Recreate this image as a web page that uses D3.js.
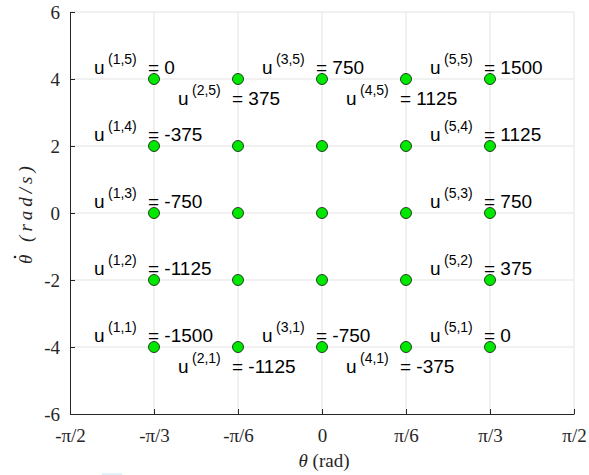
<!DOCTYPE html>
<html>
<head>
<meta charset="utf-8">
<script src="https://cdn.jsdelivr.net/npm/d3@7"></script>
<style>
  body { margin: 0; background: #fff; }
  svg { display: block; }
</style>
</head>
<body>
<div id="chart"></div>
<script>
// grid of sample states
const thetaGrid = [-Math.PI / 3, -Math.PI / 6, 0, Math.PI / 6, Math.PI / 3];
const rateGrid = [-4, -2, 0, 2, 4];

// axis ticks
const xTicks = [-Math.PI / 2, -Math.PI / 3, -Math.PI / 6, 0, Math.PI / 6, Math.PI / 3, Math.PI / 2];
const xTickLabels = ["-\u03c0/2", "-\u03c0/3", "-\u03c0/6", "0", "\u03c0/6", "\u03c0/3", "\u03c0/2"];
const yTicks = [-6, -4, -2, 0, 2, 4, 6];

// labelled points: grid index i (theta), j (rate), value, above/below
const labelI = [1, 2, 3, 4, 5, 1, 5, 1, 5, 1, 5, 1, 2, 3, 4, 5];
const labelJ = [5, 5, 5, 5, 5, 4, 4, 3, 3, 2, 2, 1, 1, 1, 1, 1];
const labelU = [0, 375, 750, 1125, 1500, -375, 1125, -750, 750, -1125, 375, -1500, -1125, -750, -375, 0];
const labelSide = ["up", "down", "up", "down", "up", "up", "up", "up", "up", "up", "up", "up", "down", "up", "down", "up"];

const W = 589, H = 475;
const margin = { top: 12, right: 15, bottom: 61, left: 70 };

const svg = d3.select("#chart").append("svg")
    .attr("width", W)
    .attr("height", H);

const x = d3.scaleLinear()
    .domain([-Math.PI / 2, Math.PI / 2])
    .range([margin.left, W - margin.right]);
const y = d3.scaleLinear()
    .domain([-6, 6])
    .range([H - margin.bottom, margin.top]);

const serif = "Liberation Serif";
const sans = "Liberation Sans";

// grid lines
svg.append("g").selectAll("line.gx")
    .data(xTicks.slice(1))
    .enter().append("line")
    .attr("x1", d => x(d)).attr("x2", d => x(d))
    .attr("y1", y(-6)).attr("y2", y(6))
    .attr("stroke", "#e3e3e3");
svg.append("g").selectAll("line.gy")
    .data(yTicks.slice(1))
    .enter().append("line")
    .attr("x1", x(-Math.PI / 2)).attr("x2", x(Math.PI / 2))
    .attr("y1", d => y(d)).attr("y2", d => y(d))
    .attr("stroke", "#e3e3e3");

// axes (ticks pointing inward)
const xAxis = svg.append("g")
    .attr("transform", `translate(0,${y(-6)})`)
    .call(d3.axisBottom(x).tickValues(xTicks).tickSizeInner(-5).tickSizeOuter(0)
        .tickFormat((d, i) => xTickLabels[i]));
const yAxis = svg.append("g")
    .attr("transform", `translate(${x(-Math.PI / 2)},0)`)
    .call(d3.axisLeft(y).tickValues(yTicks).tickSizeInner(-5).tickSizeOuter(0)
        .tickFormat(d => d < 0 ? "-" + Math.abs(d) : d));

[xAxis, yAxis].forEach(a => {
    a.attr("font-family", serif).attr("font-size", 19);
    a.select(".domain").attr("stroke", "#262626");
    a.selectAll(".tick line").attr("stroke", "#262626");
    a.selectAll(".tick text").attr("fill", "#262626");
});
xAxis.selectAll(".tick text").attr("y", 0).attr("dy", 0).attr("transform", "translate(0,28)");
yAxis.selectAll(".tick text").attr("x", -10);

// points
const pts = [];
rateGrid.forEach(r => thetaGrid.forEach(t => pts.push({ t, r })));
svg.append("g").selectAll("circle")
    .data(pts)
    .enter().append("circle")
    .attr("cx", d => x(d.t))
    .attr("cy", d => y(d.r))
    .attr("r", 5.5)
    .attr("fill", "#00e800")
    .attr("stroke", "#111")
    .attr("stroke-width", 0.8);

// u labels
const labels = labelU.map((u, k) => ({
    i: labelI[k], j: labelJ[k], u,
    px: x(thetaGrid[labelI[k] - 1]),
    py: y(rateGrid[labelJ[k] - 1]),
    side: labelSide[k]
}));

const lab = svg.append("g").selectAll("text")
    .data(labels)
    .enter().append("text")
    .attr("y", d => d.side === "up" ? d.py - 5 : d.py + 26)
    .attr("font-family", sans)
    .attr("font-size", 19)
    .attr("fill", "#000");
lab.append("tspan")
    .attr("x", d => d.px - 60)
    .text("u");
lab.append("tspan")
    .attr("x", d => d.px - 46)
    .attr("dy", -10)
    .attr("font-size", 14)
    .text(d => `(${d.i},${d.j})`);
lab.append("tspan")
    .attr("x", d => d.px - 6)
    .attr("dy", 10)
    .text(d => "= " + d.u);

// x label
svg.append("text")
    .attr("x", x(0) + 2)
    .attr("y", 467)
    .attr("text-anchor", "middle")
    .attr("font-family", serif)
    .attr("font-size", 19)
    .attr("fill", "#262626")
    .html('<tspan font-style="italic">\u03b8</tspan> (rad)');

// y label, written from the bottom upward
const yl = svg.append("g")
    .attr("transform", "translate(32,264) rotate(-90)");
yl.append("text")
    .attr("x", 0)
    .attr("y", 0)
    .attr("font-family", serif)
    .attr("font-size", 19)
    .attr("font-style", "italic")
    .attr("letter-spacing", 4)
    .attr("fill", "#262626")
    .text("\u03b8 (rad/s)");
yl.append("circle")
    .attr("cx", 7)
    .attr("cy", -17)
    .attr("r", 1.3)
    .attr("fill", "#262626");

// faint artifact at bottom edge
svg.append("rect")
    .attr("x", 102).attr("y", 473)
    .attr("width", 20).attr("height", 2)
    .attr("fill", "#dff3fb");
</script>
</body>
</html>
